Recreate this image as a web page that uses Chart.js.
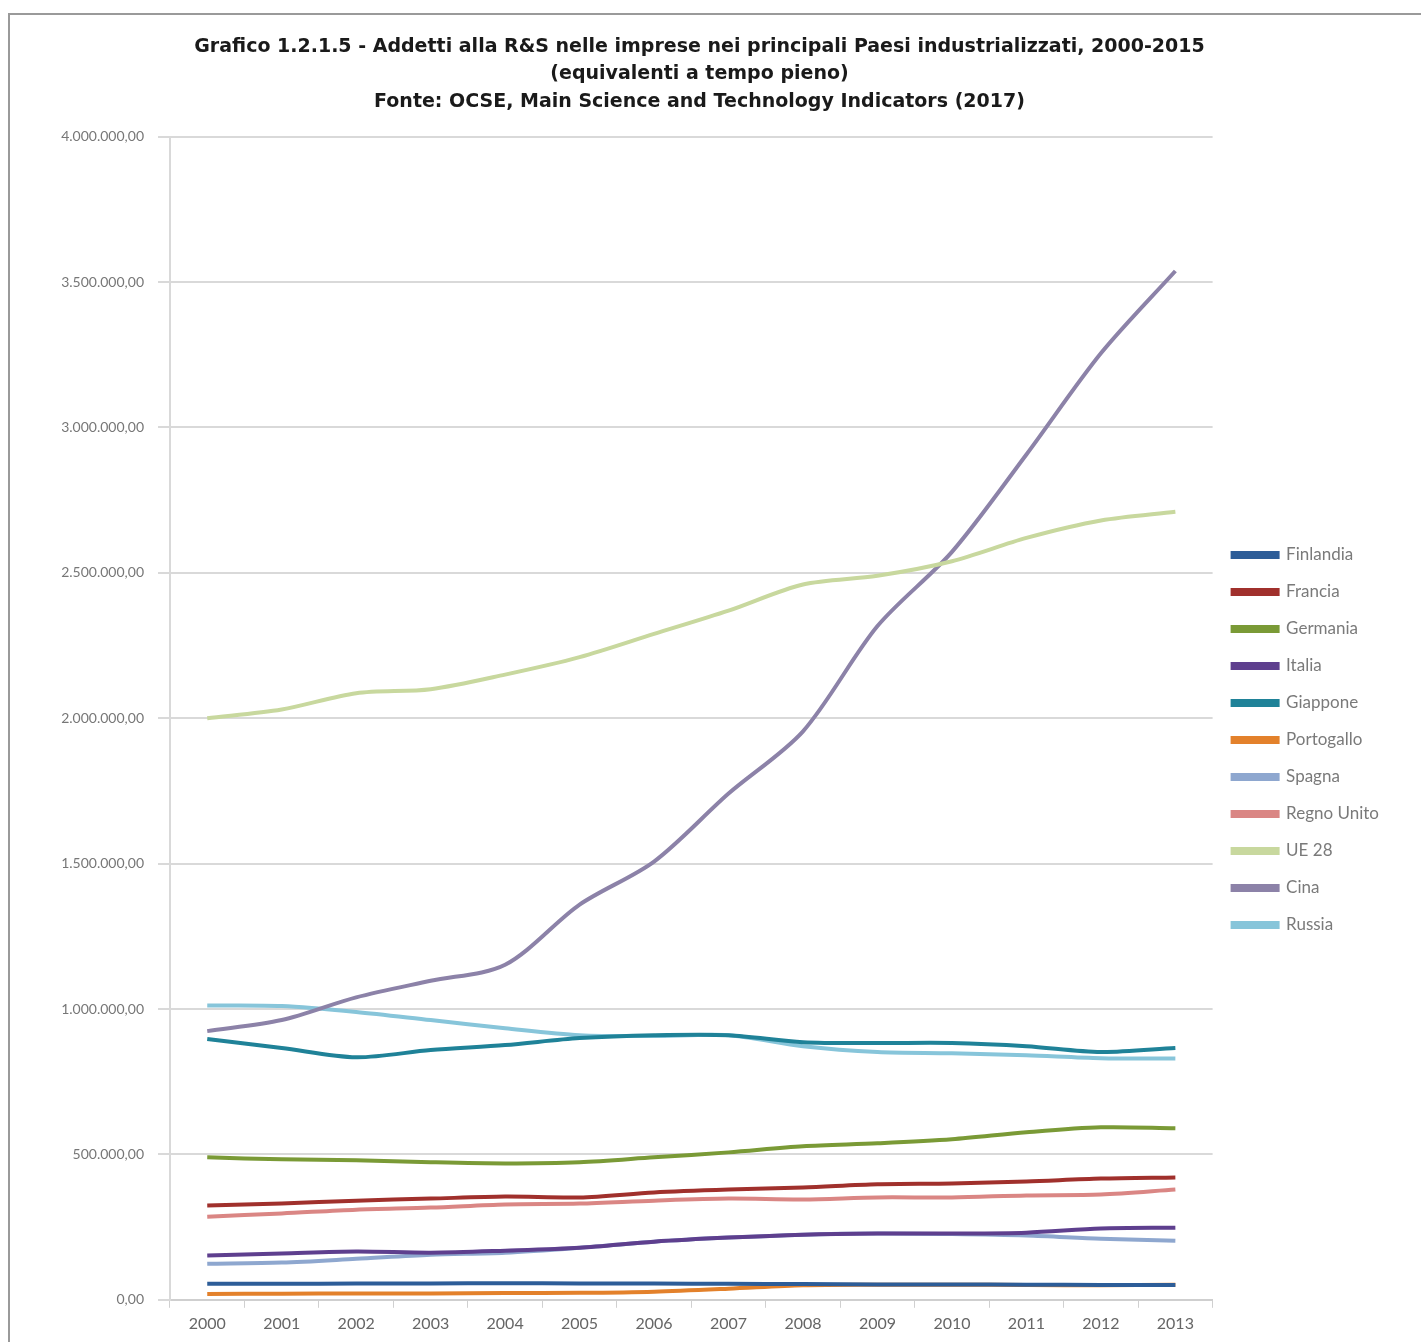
<!DOCTYPE html>
<html>
<head>
<meta charset="utf-8">
<script src="https://cdn.jsdelivr.net/npm/chart.js@4.4.0/dist/chart.umd.min.js"></script>
<style>
  html, body { margin: 0; padding: 0; background: #fff; overflow: hidden; }
  .frame { position: absolute; left: 8px; top: 13px; width: 1440px; height: 1360px; border: 2px solid #9a9a9a; }
  #chart { position: absolute; left: 0; top: 0; }
</style>
</head>
<body>
<div class="frame"></div>
<canvas id="chart" width="1421" height="1342"></canvas>
<script>
// Addetti alla R&S nelle imprese, FTE
const years = ['2000','2001','2002','2003','2004','2005','2006','2007','2008','2009','2010','2011','2012','2013'];

const finlandia  = [55000, 55000, 56000, 56000, 57000, 56000, 56000, 55000, 54000, 53000, 53000, 52000, 51000, 51000];
const francia    = [324000, 331000, 341000, 348000, 355000, 352000, 369000, 379000, 386000, 397000, 400000, 407000, 417000, 421000];
const germania   = [490000, 483000, 480000, 473000, 469000, 473000, 490000, 507000, 528000, 538000, 552000, 576000, 593000, 590000];
const italia     = [152000, 159000, 166000, 162000, 169000, 179000, 200000, 214000, 224000, 228000, 228000, 231000, 245000, 248000];
const giappone   = [897000, 866000, 834000, 859000, 876000, 900000, 910000, 910000, 886000, 883000, 883000, 872000, 852000, 866000];
const portogallo = [20000, 21000, 22000, 22000, 23000, 24000, 28000, 38000, 50000, 52000, 52000, 51000, 50000, 52000];
const spagna     = [124000, 128000, 141000, 155000, 162000, 179000, 200000, 214000, 224000, 228000, 226000, 221000, 210000, 203000];
const regnoUnito = [286000, 297000, 310000, 317000, 328000, 331000, 341000, 348000, 345000, 352000, 352000, 359000, 362000, 379000];
const ue28       = [2000000, 2030000, 2086000, 2100000, 2150000, 2210000, 2290000, 2370000, 2460000, 2490000, 2540000, 2620000, 2680000, 2710000];
const cina       = [924000, 962000, 1040000, 1097000, 1152000, 1359000, 1507000, 1741000, 1955000, 2317000, 2572000, 2907000, 3255000, 3538000];
const russia     = [1012000, 1010000, 990000, 962000, 934000, 910000, 907000, 910000, 872000, 852000, 848000, 841000, 831000, 830000];

const seriesNames = ['Finlandia','Francia','Germania','Italia','Giappone','Portogallo','Spagna','Regno Unito','UE 28','Cina','Russia'];
const seriesData  = [finlandia, francia, germania, italia, giappone, portogallo, spagna, regnoUnito, ue28, cina, russia];
const seriesColors = ['#2D5D98','#A0302C','#7A9A36','#5E3F8E','#1F8298','#E3812B','#8EA7CF','#DA8684','#C8D89E','#8C82A8','#87C5DA'];

// formato italiano: 4.000.000,00
function fmtIt(v) {
  const s = Math.round(v).toString().replace(/\B(?=(\d{3})+(?!\d))/g, '.');
  return s + ',00';
}

const FONT = "'Lato','Open Sans','DejaVu Sans',sans-serif";

const datasets = seriesNames.map((name, i) => ({
  label: name,
  data: seriesData[i],
  borderColor: seriesColors[i],
  backgroundColor: seriesColors[i],
  borderWidth: 4,
  tension: 0.3,
  pointRadius: 0,
  fill: false,
}));

new Chart(document.getElementById('chart'), {
  type: 'line',
  data: { labels: years, datasets },
  options: {
    responsive: false,
    animation: false,
    layout: { padding: { top: 33, left: 10, right: 32, bottom: 3 } },
    plugins: {
      title: {
        display: true,
        text: [
          'Grafico 1.2.1.5 - Addetti alla R&S nelle imprese nei principali Paesi industrializzati, 2000-2015',
          '(equivalenti a tempo pieno)',
          'Fonte: OCSE, Main Science and Technology Indicators (2017)',
        ],
        color: '#1a1a1a',
        font: { family: "'DejaVu Sans',sans-serif", size: 19, weight: 'bold', lineHeight: 1.45 },
        padding: { top: 0, bottom: 21 },
      },
      legend: {
        position: 'right',
        title: { display: true, text: ' ', font: { size: 10, lineHeight: 1.2 }, padding: { top: 96, bottom: 0 } },
        labels: {
          boxWidth: 45,
          boxHeight: 4,
          padding: 20,
          color: '#7a7a7a',
          font: { family: FONT, size: 17 },
        },
      },
      tooltip: { enabled: false },
    },
    scales: {
      x: {
        offset: true,
        grid: { drawOnChartArea: false, drawTicks: true, tickLength: 8, color: '#d0d0d0', offset: true },
        border: { color: '#cfcfcf', width: 2 },
        ticks: { color: '#666', padding: 6, font: { family: FONT, size: 16 }, maxRotation: 0 },
      },
      y: {
        min: 0, max: 4000000,
        ticks: { stepSize: 500000, color: '#777', padding: 14, font: { family: FONT, size: 14 }, callback: v => fmtIt(v) },
        grid: { color: '#d9d9d9', lineWidth: 2, tickLength: 12 },
        border: { color: '#d9d9d9', width: 2 },
        afterFit: s => { s.width = 160; },
      },
    },
  },
});
</script>
</body>
</html>
